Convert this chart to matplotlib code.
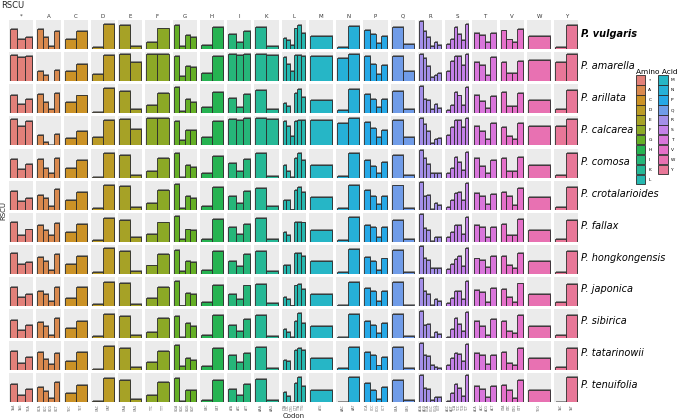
import numpy as np
import matplotlib
matplotlib.use("Agg")
import matplotlib.pyplot as plt
from matplotlib.patches import Patch
from matplotlib.transforms import ScaledTranslation

# ---------------- data ----------------
amino_acids = ["*", "A", "C", "D", "E", "F", "G", "H", "I", "K", "L",
               "M", "N", "P", "Q", "R", "S", "T", "V", "W", "Y"]

codons = [
    ["TAA", "TAG", "TGA"], ["GCA", "GCC", "GCG", "GCT"], ["TGC", "TGT"],
    ["GAC", "GAT"], ["GAA", "GAG"], ["TTC", "TTT"], ["GGA", "GGC", "GGG", "GGT"],
    ["CAC", "CAT"], ["ATA", "ATC", "ATT"], ["AAA", "AAG"],
    ["CTA", "CTC", "CTG", "CTT", "TTA", "TTG"], ["ATG"], ["AAC", "AAT"],
    ["CCA", "CCC", "CCG", "CCT"], ["CAA", "CAG"],
    ["AGA", "AGG", "CGA", "CGC", "CGG", "CGT"],
    ["AGC", "AGT", "TCA", "TCC", "TCG", "TCT"],
    ["ACA", "ACC", "ACG", "ACT"], ["GTA", "GTC", "GTG", "GTT"], ["TGG"], ["TAC", "TAT"],
]

species = ["P. vulgaris", "P. amarella", "P. arillata", "P. calcarea", "P. comosa",
           "P. crotalarioides", "P. fallax", "P. hongkongensis", "P. japonica",
           "P. sibirica", "P. tatarinowii", "P. tenuifolia"]

vulgaris = [[1.56, 0.78, 0.92], [1.56, 0.92, 0.23, 1.43], [0.78, 1.40], [0.14, 1.98], [1.89, 0.21],
            [0.53, 1.63], [1.89, 0.21, 1.08, 0.94], [0.35, 1.75], [1.17, 0.60, 1.45], [1.77, 0.25],
            [0.90, 0.71, 0.35, 1.63, 1.91, 1.31], [1.00], [0.18, 1.84], [1.52, 1.17, 0.46, 1.06],
            [1.73, 0.39], [2.19, 1.45, 0.92, 0.25, 0.60, 0.35], [0.37, 0.78, 1.73, 1.20, 0.69, 1.96],
            [1.31, 1.08, 0.53, 1.27], [1.47, 0.76, 0.58, 1.56], [1.00], [0.18, 1.89]]
amarella = [[1.05, 0.95, 1.01], [0.41, 0.23, 0.01, 0.44], [0.41, 0.67], [0.28, 1.03], [1.08, 0.75],
            [1.07, 1.08], [0.98, 0.22, 0.59, 0.56], [0.34, 0.99], [1.08, 1.02, 1.09], [1.09, 1.02],
            [0.96, 0.69, 0.42, 1.02, 1.05, 1.01], [1.00], [0.90, 1.09], [0.99, 0.67, 0.29, 0.65],
            [1.00, 0.41], [1.07, 0.91, 0.59, 0.15, 0.23, 0.33], [0.41, 0.78, 0.99, 1.00, 0.63, 1.09],
            [0.74, 0.62, 0.24, 0.95], [0.75, 0.34, 0.34, 0.79], [0.83], [0.75, 1.09]]
arillata = [[1.43, 0.74, 1.10], [1.47, 0.87, 0.32, 1.56], [0.85, 1.38], [0.12, 1.98], [1.75, 0.35],
            [0.64, 1.59], [2.00, 0.21, 1.08, 0.87], [0.48, 1.66], [1.17, 0.51, 1.52], [1.82, 0.30],
            [0.78, 0.58, 0.05, 1.56, 1.91, 1.29], [1.00], [0.23, 1.89], [1.52, 1.13, 0.48, 1.10],
            [1.75, 0.32], [2.14, 1.10, 1.06, 0.37, 0.74, 0.41], [0.23, 0.64, 1.66, 1.38, 0.67, 2.05],
            [1.43, 0.99, 0.39, 1.31], [1.66, 0.58, 0.58, 1.59], [1.00], [0.32, 1.79]]
calcarea = [[1.05, 0.78, 0.99], [0.43, 0.12, 0.03, 0.47], [0.31, 0.58], [0.32, 1.03], [1.07, 0.65],
            [1.08, 1.10], [0.99, 0.23, 0.61, 0.61], [0.34, 0.99], [1.07, 1.02, 1.09], [1.09, 1.05],
            [0.97, 0.77, 0.37, 0.99, 1.03, 1.01], [1.00], [0.90, 1.10], [0.94, 0.68, 0.33, 0.63],
            [1.02, 0.35], [1.08, 0.87, 0.59, 0.10, 0.25, 0.29], [0.43, 0.73, 1.00, 1.01, 0.74, 1.10],
            [0.77, 0.57, 0.26, 0.90], [0.73, 0.36, 0.26, 0.90], [0.78], [0.76, 1.07]]
comosa = [[1.47, 0.70, 1.05], [1.49, 0.79, 0.40, 1.58], [0.75, 1.42], [0.05, 2.00], [1.82, 0.21],
          [0.56, 1.58], [2.00, 0.05, 1.03, 0.86], [0.33, 1.75], [1.19, 0.49, 1.49], [1.96, 0.12],
          [1.03, 0.51, 0.05, 1.54, 1.96, 1.40], [1.00], [0.14, 1.93], [1.44, 0.96, 0.40, 1.28],
          [1.84, 0.23], [2.21, 1.54, 1.05, 0.33, 0.35, 0.35], [0.33, 0.77, 1.65, 1.26, 0.58, 2.03],
          [1.58, 0.91, 0.40, 1.37], [1.58, 0.56, 0.54, 1.63], [1.00], [0.19, 1.93]]
crotalarioides = [[1.43, 0.71, 0.94], [1.17, 0.92, 0.32, 1.63], [0.78, 1.38], [0.12, 1.91], [1.82, 0.23],
                  [0.55, 1.56], [1.98, 0.14, 1.04, 0.90], [0.32, 1.75], [1.06, 0.53, 1.47], [1.73, 0.32],
                  [0.76, 0.74, 0.02, 1.54, 1.77, 1.36], [1.00], [0.12, 1.91], [1.54, 1.10, 0.46, 1.04],
                  [1.89, 0.16], [2.16, 1.08, 1.17, 0.07, 0.55, 0.37], [0.23, 0.78, 1.31, 1.36, 0.76, 2.07],
                  [1.27, 1.08, 0.46, 1.24], [1.36, 1.06, 0.39, 1.73], [1.00], [0.23, 1.79]]
fallax = [[1.66, 0.60, 1.01], [1.34, 0.96, 0.53, 1.54], [0.77, 1.46], [0.19, 1.92], [1.75, 0.43],
          [0.67, 1.58], [2.11, 0.26, 1.01, 0.94], [0.22, 1.85], [1.18, 0.67, 1.46], [1.92, 0.22],
          [0.77, 0.58, 0.02, 1.66, 1.63, 1.58], [1.00], [0.12, 1.99], [1.39, 1.25, 0.43, 1.18],
          [1.82, 0.24], [2.26, 1.15, 0.94, 0.05, 0.41, 0.41], [0.41, 0.84, 1.37, 1.39, 0.65, 2.06],
          [1.34, 1.22, 0.36, 1.25], [1.44, 0.55, 0.55, 1.87], [1.00], [0.26, 1.80]]
hongkongensis = [[1.68, 0.77, 0.94], [1.34, 1.03, 0.34, 1.58], [0.77, 1.42], [0.12, 2.02], [1.82, 0.26],
                 [0.67, 1.54], [1.92, 0.26, 1.06, 0.94], [0.31, 1.82], [1.01, 0.65, 1.58], [1.82, 0.22],
                 [0.74, 0.74, 0.02, 1.68, 1.68, 1.39], [1.00], [0.12, 1.99], [1.37, 1.03, 0.31, 1.22],
                 [1.92, 0.19], [2.18, 1.27, 1.08, 0.46, 0.46, 0.46], [0.41, 0.82, 1.15, 1.42, 0.62, 2.06],
                 [1.22, 1.08, 0.53, 1.39], [1.39, 0.74, 0.46, 1.68], [1.00], [0.19, 1.82]]
japonica = [[1.54, 0.72, 0.94], [1.25, 1.01, 0.38, 1.56], [0.67, 1.51], [0.17, 1.92], [1.85, 0.19],
            [0.67, 1.56], [2.06, 0.05, 1.06, 0.94], [0.36, 1.73], [0.94, 0.60, 1.66], [1.80, 0.26],
            [0.72, 0.60, 0.05, 1.66, 1.80, 1.37], [1.00], [0.12, 1.97], [1.42, 1.18, 0.43, 1.20],
            [1.94, 0.07], [2.23, 1.18, 1.01, 0.12, 0.58, 0.43], [0.26, 0.67, 1.25, 1.25, 0.58, 2.04],
            [1.27, 1.13, 0.31, 1.44], [1.37, 0.77, 0.36, 1.82], [1.00], [0.31, 1.75]]
sibirica = [[1.42, 0.67, 1.06], [1.25, 0.96, 0.24, 1.63], [0.77, 1.37], [0.14, 1.92], [1.75, 0.26],
            [0.53, 1.63], [1.75, 0.12, 1.18, 0.98], [0.26, 1.80], [1.08, 0.55, 1.51], [1.85, 0.19],
            [0.72, 0.48, 0.07, 1.39, 1.99, 1.20], [1.00], [0.12, 1.92], [1.39, 1.08, 0.41, 1.18],
            [1.92, 0.14], [2.18, 1.06, 1.13, 0.12, 0.53, 0.36], [0.12, 0.74, 1.58, 1.15, 0.58, 2.04],
            [1.34, 0.96, 0.26, 1.54], [1.37, 0.60, 0.43, 1.80], [1.00], [0.22, 1.82]]
tatarinowii = [[1.54, 0.60, 1.01], [1.42, 0.86, 0.46, 1.34], [0.72, 1.42], [0.14, 1.92], [1.78, 0.26],
               [0.65, 1.51], [1.97, 0.36, 0.94, 0.82], [0.31, 1.75], [1.18, 0.65, 1.34], [1.82, 0.17],
               [0.84, 0.70, 0.05, 1.61, 1.73, 1.58], [1.00], [0.22, 1.82], [1.42, 1.20, 0.38, 1.03],
               [1.82, 0.19], [2.16, 1.18, 1.13, 0.41, 0.24, 0.19], [0.43, 0.94, 1.34, 1.27, 0.74, 2.06],
               [1.32, 1.20, 0.53, 1.22], [1.44, 0.60, 0.41, 1.73], [1.00], [0.26, 1.75]]
tenuifolia = [[1.42, 0.60, 1.08], [1.18, 0.86, 0.38, 1.63], [0.77, 1.34], [0.12, 1.92], [1.73, 0.31],
              [0.55, 1.58], [1.92, 0.12, 0.96, 0.96], [0.22, 1.78], [1.08, 0.55, 1.44], [1.80, 0.22],
              [0.79, 0.53, 0.05, 1.54, 2.02, 1.27], [1.00], [0.05, 1.97], [1.54, 1.01, 0.26, 1.18],
              [1.78, 0.22], [2.16, 1.13, 1.06, 0.17, 0.41, 0.46], [0.12, 0.72, 1.46, 1.13, 0.48, 2.11],
              [1.27, 1.08, 0.43, 1.32], [1.39, 0.98, 0.36, 1.73], [1.00], [0.07, 1.97]]

rscu = [vulgaris, amarella, arillata, calcarea, comosa, crotalarioides, fallax,
        hongkongensis, japonica, sibirica, tatarinowii, tenuifolia]


# ---------------- colours (ggplot2 hue palette, muted) ----------------
def hcl_rgb(h, c=100.0, l=65.0):
    hr = np.deg2rad(h)
    u, v = c * np.cos(hr), c * np.sin(hr)
    Xn, Yn, Zn = 95.047, 100.0, 108.883
    Y = Yn * ((l + 16) / 116) ** 3
    den = Xn + 15 * Yn + 3 * Zn
    un, vn = 4 * Xn / den, 9 * Yn / den
    up, vp = u / (13 * l) + un, v / (13 * l) + vn
    X = 9.0 * Y * up / (4 * vp)
    Z = -X / 3 - 5 * Y + 3 * Y / vp
    x, y, z = X / 100, Y / 100, Z / 100
    rgb = np.array([3.240479 * x - 1.537150 * y - 0.498535 * z,
                    -0.969256 * x + 1.875992 * y + 0.041556 * z,
                    0.055648 * x - 0.204043 * y + 1.057311 * z])
    rgb = np.where(rgb <= 0.0031308, 12.92 * rgb, 1.055 * np.abs(rgb) ** (1 / 2.4) - 0.055)
    return np.clip(rgb, 0, 1)


hues = np.linspace(15, 375, len(amino_acids) + 1)[:-1] % 360
mix_grey = np.array([0.62, 0.62, 0.62])
colors = [tuple(0.76 * hcl_rgb(h) + 0.24 * mix_grey) for h in hues]

# ---------------- figure ----------------
W, H = 677, 420
fig = plt.figure(figsize=(W / 100, H / 100), dpi=100)
plt.rcParams['font.family'] = ['DejaVu Sans']

gs = fig.add_gridspec(len(species), len(amino_acids),
                      left=9 / W, right=578.5 / W, top=1 - 20 / H, bottom=1 - 402.5 / H,
                      wspace=0.121, hspace=0.104)

shadow_tr = ScaledTranslation(0.7 / 72, 0.7 / 72, fig.dpi_scale_trans)
edge = '#2b2b2b'

for r, sp in enumerate(species):
    row = rscu[r]
    ymax = max(max(v) for v in row) * 1.05
    for c, aa in enumerate(amino_acids):
        ax = fig.add_subplot(gs[r, c])
        ax.set_facecolor('#EBEBEB')
        vals = row[c]
        n = len(vals)
        x = np.arange(n)
        ax.bar(x, vals, width=1.0, color='#8c8c8c', linewidth=0,
               transform=ax.transData + shadow_tr, zorder=1)
        ax.bar(x, vals, width=1.0, color=colors[c],
               edgecolor=edge, linewidth=0.6, zorder=2)
        pad = 0.05 * n
        ax.set_xlim(-0.5 - pad, n - 0.5 + pad)
        ax.set_ylim(0, ymax)
        for s in ax.spines.values():
            s.set_visible(False)
        ax.set_yticks([])
        if r == len(species) - 1:
            ax.set_xticks(x)
            ax.set_xticklabels(codons[c], rotation=90, fontsize=2.3, color='#666666')
            ax.tick_params(axis='x', length=0, pad=1)
        else:
            ax.set_xticks([])
        if r == 0:
            ax.set_title(aa, fontsize=4, color='#333333', pad=1.8)

# species labels
row_pitch = (402.5 - 20) / len(species)
for r, sp in enumerate(species):
    yc = 20 + row_pitch * r + row_pitch / 2 - 1.5
    fig.text(581 / W, 1 - yc / H, sp, fontsize=7, style='italic',
             fontweight='bold' if r == 0 else 'normal', va='center', ha='left')

# axis titles
fig.text(1 / W, 1 - 1 / H, "RSCU", fontsize=6, va='top', ha='left', color='#222222')
fig.text(3 / W, 1 - 210 / H, "RSCU", fontsize=5, rotation=90, va='center', ha='center', color='#222222')
fig.text(293.7 / W, 1 - 416 / H, "Codon", fontsize=5, va='center', ha='center', color='#222222')

# legend
handles = [Patch(facecolor=colors[i], edgecolor=edge, linewidth=0.6)
           for i in range(len(amino_acids))]
leg = fig.legend(handles, amino_acids, loc='upper left', bbox_to_anchor=(636 / W, 1 - 69 / H),
                 ncol=2, frameon=False, fontsize=3.2, title="Amino Acid", title_fontsize=5.3,
                 handlelength=2.1, handleheight=2.9, labelspacing=0.1, handletextpad=0.7,
                 columnspacing=1.5, borderpad=0, borderaxespad=0)
leg._legend_box.align = "left"

fig.savefig("out.png", dpi=100)
